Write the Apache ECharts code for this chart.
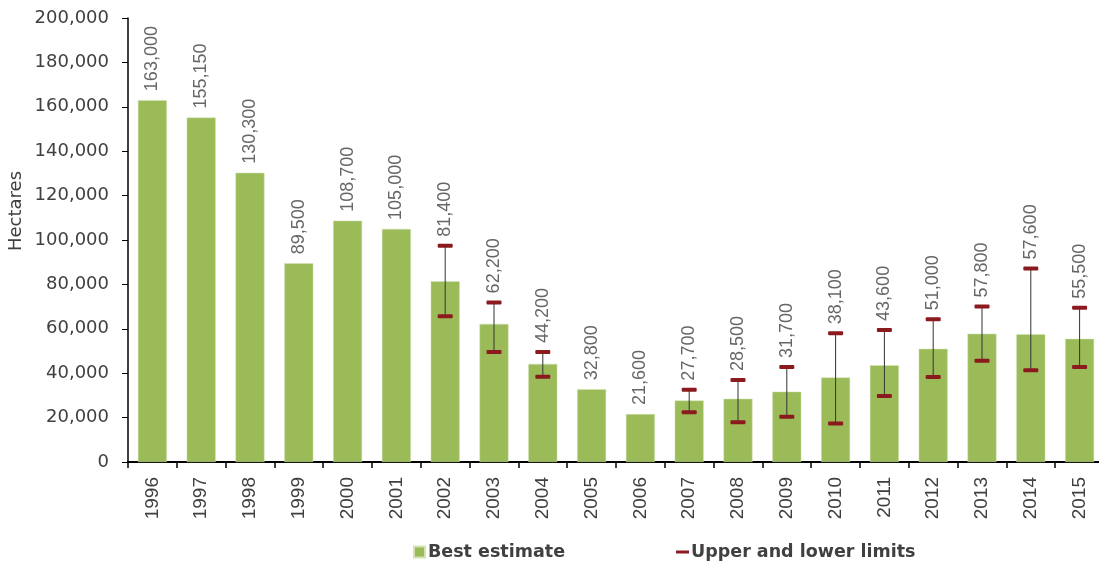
<!DOCTYPE html>
<html><head><meta charset="utf-8">
<script src="https://cdn.jsdelivr.net/npm/echarts@6/dist/echarts.min.js"></script>
<style>html,body{margin:0;padding:0;background:#fff}#c{width:1099px;height:562px}</style>
</head><body><div id="c"></div>
<script>
const years = ['1996','1997','1998','1999','2000','2001','2002','2003','2004','2005','2006','2007','2008','2009','2010','2011','2012','2013','2014','2015'];
const bestEstimate = [163000,155150,130300,89500,108700,105000,81400,62200,44200,32800,21600,27700,28500,31700,38100,43600,51000,57800,57600,55500];
const upperLimit = [null,null,null,null,null,null,97400,71900,49500,null,null,32600,36900,42800,58000,59500,64300,70000,87200,69500];
const lowerLimit = [null,null,null,null,null,null,65600,49500,38400,null,null,22400,17900,20400,17300,29700,38300,45600,41300,42800];
const yTicks = {min:0, max:200000, interval:20000};

const fmt = v => Number(v).toLocaleString('en-US');
const textColor = '#404040';
const wideFont = '"DejaVu Sans"';
const narrowFont = '"Liberation Sans"';
const errData = years.map((y,i)=> upperLimit[i]==null ? null : [i, lowerLimit[i], upperLimit[i]]).filter(d=>d);
const labelData = years.map((y,i)=> [i, Math.max(bestEstimate[i], upperLimit[i]||0), bestEstimate[i]]);

const chart = echarts.init(document.getElementById('c'));
chart.setOption({
  animation:false,
  textStyle:{fontFamily:narrowFont},
  grid:{left:128, top:18, bottom:100, width:976, outerBoundsMode:'none', containLabel:false},
  legend:[
    {data:['Best estimate'], left:408, top:538, icon:'rect', itemWidth:11, itemHeight:11, itemGap:5,
     textStyle:{fontSize:17.5, fontWeight:'bold', color:textColor, fontFamily:wideFont, padding:[0,0,0,-2]}},
    {data:['Upper and lower limits'], left:671, top:538, icon:'rect', itemWidth:13, itemHeight:3,
     textStyle:{fontSize:17.5, fontWeight:'bold', color:textColor, fontFamily:wideFont, padding:[0,0,0,-3]}}
  ],
  xAxis:{type:'category', data:years,
    axisLine:{lineStyle:{color:'#000', width:2}},
    axisTick:{show:true, length:6, lineStyle:{color:'#000', width:1.5}},
    axisLabel:{rotate:90, fontSize:19, color:textColor, margin:15, fontFamily:narrowFont}},
  yAxis:{type:'value', min:yTicks.min, max:yTicks.max, interval:yTicks.interval,
    name:'Hectares', nameLocation:'middle', nameRotate:90, nameGap:103, nameMoveOverlap:false,
    nameTextStyle:{fontSize:18, color:textColor, fontFamily:wideFont, padding:[0,0,0,58]},
    axisLine:{show:true, lineStyle:{color:'#000', width:1.5}},
    axisTick:{show:true, length:6, lineStyle:{color:'#000'}},
    splitLine:{show:false},
    axisLabel:{fontSize:18, color:textColor, margin:19, fontFamily:wideFont, formatter:fmt}},
  series:[
    {name:'Best estimate', type:'bar', data:bestEstimate, barWidth:29,
     itemStyle:{color:'#9BBB59', borderColor:'#D3E3B4', borderWidth:0.5}, z:2},
    {name:'Upper and lower limits', type:'custom', data:errData, z:5,
     itemStyle:{color:'#8B1A1F'},
     encode:{x:0, y:[1,2]},
     renderItem:function(params, api){
       const x = api.value(0);
       const lo = api.coord([x, api.value(1)]);
       const hi = api.coord([x, api.value(2)]);
       const cw = 15, ch = 4;
       return {type:'group', children:[
         {type:'line', shape:{x1:hi[0], y1:hi[1], x2:lo[0], y2:lo[1]}, style:{stroke:'#333', lineWidth:1}},
         {type:'rect', shape:{x:hi[0]-cw/2, y:hi[1]-ch/2, width:cw, height:ch, r:1}, style:{fill:'#8B1A1F'}},
         {type:'rect', shape:{x:lo[0]-cw/2, y:lo[1]-ch/2, width:cw, height:ch, r:1}, style:{fill:'#8B1A1F'}}
       ]};
     }},
    {name:'labels', type:'scatter', data:labelData, symbolSize:0, z:6, silent:true,
     encode:{x:0, y:1},
     label:{show:true, position:'top', rotate:90, align:'left', verticalAlign:'middle', distance:9,
       fontSize:18, color:textColor, fontFamily:narrowFont, formatter:p=>fmt(p.value[2])}}
  ]
});
</script></body></html>
